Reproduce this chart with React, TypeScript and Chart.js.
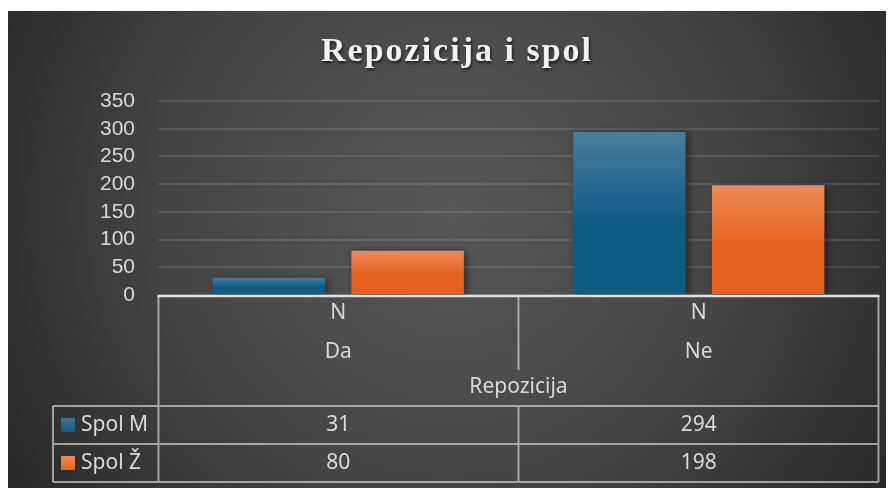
import React, { useEffect, useRef } from "react";
import { Chart, registerables } from "chart.js";

Chart.register(...registerables);

const titleText = "Repozicija i spol";
const categories = ["Da", "Ne"];
const groupLabel = "N";
const axisTitle = "Repozicija";
const seriesNames = ["Spol M", "Spol Ž"];
const spolM = [31, 294];
const spolZ = [80, 198];
const yMax = 350;
const yStep = 50;

const W = 884;
const H = 477;
const TXT = "#d9d9d9";
const FONT = "'Noto Sans', 'DejaVu Sans', sans-serif";

function barGradient(ctx: any, top: [string, string]) {
  const chart = ctx.chart;
  if (!chart.chartArea) return top[1];
  const ys = chart.scales?.y;
  const v = ctx.parsed?.y;
  if (!ys || v == null) return top[1];
  const y0 = ys.getPixelForValue(v);
  const y1 = ys.getPixelForValue(0);
  if (!isFinite(y0) || !isFinite(y1) || y0 === y1) return top[1];
  const g = chart.ctx.createLinearGradient(0, y0, 0, y1);
  g.addColorStop(0, top[0]);
  g.addColorStop(0.55, top[1]);
  g.addColorStop(1, top[1]);
  return g;
}

const bgPlugin = {
  id: "bg",
  beforeDraw(chart: any) {
    const c = chart.ctx;
    c.save();
    const g = c.createRadialGradient(W * 0.5, H * 0.42, 0, W * 0.5, H * 0.42, W * 0.6);
    g.addColorStop(0, "#585858");
    g.addColorStop(0.55, "#444444");
    g.addColorStop(1, "#262626");
    c.fillStyle = g;
    c.fillRect(0, 0, chart.width, chart.height);
    c.font = `bold 34px 'Liberation Serif', 'DejaVu Serif', serif`;
    (c as any).letterSpacing = "2px";
    c.textAlign = "center";
    c.textBaseline = "alphabetic";
    c.shadowColor = "rgba(0,0,0,0.7)";
    c.shadowBlur = 3;
    c.shadowOffsetX = 1;
    c.shadowOffsetY = 2;
    c.fillStyle = "#f2f2f2";
    c.fillText(titleText, 449, 50);
    c.restore();
  },
  beforeDatasetsDraw(chart: any) {
    const c = chart.ctx;
    c.save();
    c.shadowColor = "rgba(0,0,0,0.45)";
    c.shadowBlur = 8;
    c.shadowOffsetX = 3;
    c.shadowOffsetY = 1;
  },
  afterDatasetsDraw(chart: any) {
    chart.ctx.restore();
  },
};

const tablePlugin = {
  id: "table",
  afterDraw(chart: any) {
    const c = chart.ctx;
    const area = chart.chartArea;
    const xs = chart.scales.x;
    const left = area.left + 0.5;
    const right = area.right - 0.5;
    const top = area.bottom + 1;
    const legendLeft = 45;
    const headBottom = 359;
    const row1 = 395;
    const row2 = 433;
    const bottom = 471;
    const mid = xs.getPixelForValue(0.5);

    c.save();
    c.strokeStyle = "rgba(200,200,200,0.75)";
    c.lineWidth = 2;
    c.beginPath();
    c.moveTo(left, top); c.lineTo(left, bottom);
    c.moveTo(right, top); c.lineTo(right, bottom);
    c.moveTo(mid, top); c.lineTo(mid, headBottom);
    c.moveTo(mid, row1); c.lineTo(mid, bottom);
    c.moveTo(legendLeft, row1); c.lineTo(legendLeft, bottom);
    c.moveTo(legendLeft, row1); c.lineTo(right, row1);
    c.moveTo(legendLeft, row2); c.lineTo(right, row2);
    c.moveTo(legendLeft, bottom); c.lineTo(right, bottom);
    c.stroke();

    c.strokeStyle = "#e0e0e0";
    c.lineWidth = 2.5;
    c.beginPath();
    c.moveTo(left - 1, top); c.lineTo(right + 1, top);
    c.stroke();

    c.fillStyle = TXT;
    c.font = `21px ${FONT}`;
    c.textAlign = "center";
    c.textBaseline = "middle";
    categories.forEach((cat, i) => {
      const x = xs.getPixelForValue(i);
      c.fillText(groupLabel, x, 302);
      c.fillText(cat, x, 341);
    });
    c.fillText(axisTitle, (area.left + area.right) / 2, 376);

    const rows = [row1, row2];
    chart.data.datasets.forEach((ds: any, di: number) => {
      const yc = (rows[di] + (di === 0 ? row2 : bottom)) / 2;
      ds.data.forEach((v: number, i: number) => {
        c.textAlign = "center";
        c.fillText(String(v), xs.getPixelForValue(i), yc);
      });
      const sq = 14;
      const sg = c.createLinearGradient(0, yc - sq / 2, 0, yc + sq / 2);
      sg.addColorStop(0, di === 0 ? "#3f7596" : "#ef8a5a");
      sg.addColorStop(1, di === 0 ? "#0f5a82" : "#e8621f");
      c.fillStyle = sg;
      c.fillRect(53, yc - sq / 2, sq, sq);
      c.fillStyle = TXT;
      c.textAlign = "left";
      c.fillText(ds.label, 73, yc);
    });
    c.restore();
  },
};

export default function App() {
  const ref = useRef<HTMLCanvasElement | null>(null);
  useEffect(() => {
    if (!ref.current) return;
    const chart = new Chart(ref.current, {
      type: "bar",
      data: {
        labels: categories,
        datasets: [
          {
            label: seriesNames[0],
            data: spolM,
            backgroundColor: (ctx: any) => barGradient(ctx, ["#4a7d9c", "#0e5b83"]),
            borderWidth: 0,
            categoryPercentage: 0.77,
            barPercentage: 0.81,
          },
          {
            label: seriesNames[1],
            data: spolZ,
            backgroundColor: (ctx: any) => barGradient(ctx, ["#ee8a5c", "#e8611e"]),
            borderWidth: 0,
            categoryPercentage: 0.77,
            barPercentage: 0.81,
          },
        ],
      },
      options: {
        responsive: false,
        animation: false,
        layout: { padding: { top: 90, right: 13, bottom: 193, left: 0 } },
        plugins: {
          legend: { display: false },
          title: { display: false },
          tooltip: { enabled: false },
        },
        scales: {
          x: { display: false },
          y: {
            min: 0,
            max: yMax,
            afterFit: (s: any) => { s.width = 150; },
            ticks: {
              stepSize: yStep,
              autoSkip: false,
              padding: 23,
              color: TXT,
              font: { family: "'Liberation Sans', Arial, sans-serif", size: 21 },
            },
            grid: {
              color: "rgba(255,255,255,0.11)",
              lineWidth: 2,
              drawTicks: false,
            },
            border: { display: false },
          },
        },
      },
      plugins: [bgPlugin, tablePlugin],
    });
    return () => chart.destroy();
  }, []);
  return (
    <div style={{ width: W, height: H, marginTop: 3 }}>
      <canvas ref={ref} width={W} height={H} style={{ display: "block" }} />
    </div>
  );
}
